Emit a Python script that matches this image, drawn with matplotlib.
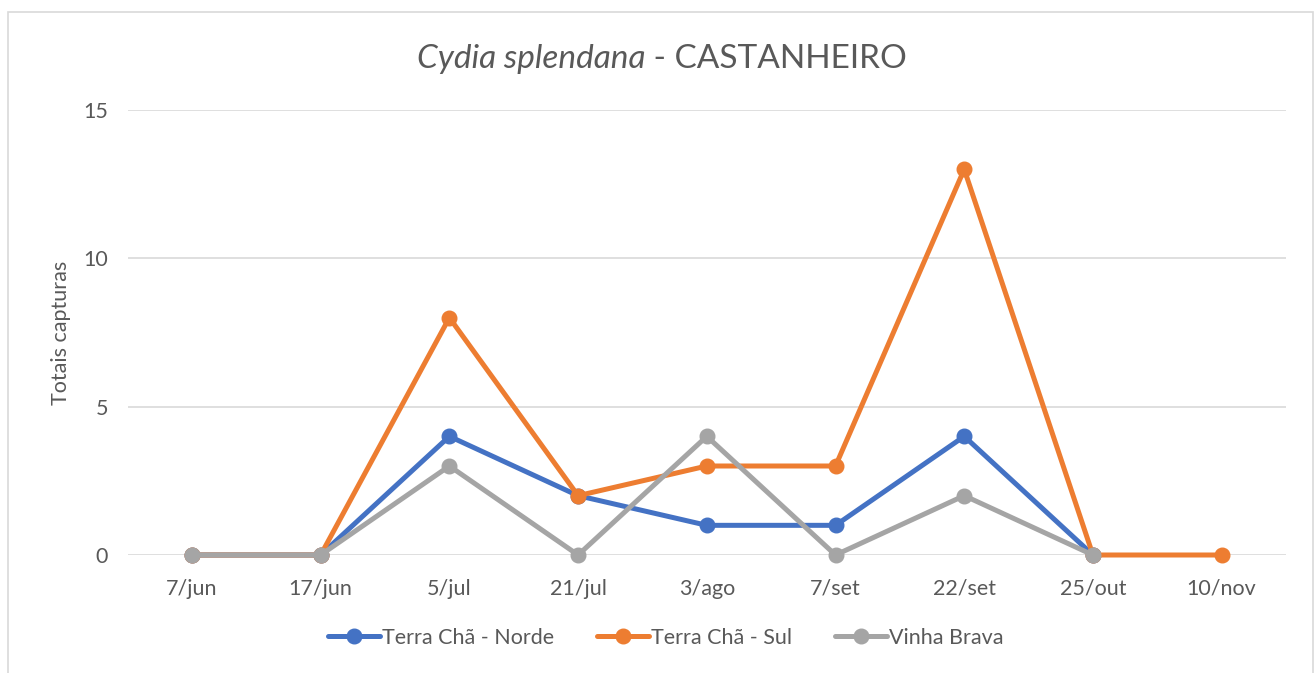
import matplotlib
matplotlib.use("Agg")
import matplotlib.pyplot as plt
from matplotlib.patches import Rectangle
import numpy as np

dates = ["7/jun", "17/jun", "5/jul", "21/jul", "3/ago", "7/set", "22/set", "25/out", "10/nov"]
norde = [0, 0, 4, 2, 1, 1, 4, 0, np.nan]
sul = [0, 0, 8, 2, 3, 3, 13, 0, 0]
vinha = [0, 0, 3, 0, 4, 0, 2, 0, np.nan]
series_names = ["Terra Chã - Norde", "Terra Chã - Sul", "Vinha Brava"]
yticks = [0, 5, 10, 15]

plt.rcParams['font.family'] = ['Lato', 'DejaVu Sans']
txt = '#595959'

fig = plt.figure(figsize=(13.14, 6.73), dpi=100)
fig.patches.append(Rectangle((8/1314, -0.01), (1313-8)/1314, 1.01 - 12/673, transform=fig.transFigure,
                             fill=False, edgecolor='#D9D9D9', linewidth=1.2))
ax = fig.add_axes([127.6/1314, 1-555/673, (1286-127.6)/1314, (555-110)/673])

x = np.arange(len(dates))
colors = ['#4472C4', '#ED7D31', '#A5A5A5']
for vals, c, n in zip([norde, sul, vinha], colors, series_names):
    ax.plot(x, vals, color=c, linewidth=3.6, marker='o', markersize=10.5, label=n,
            solid_capstyle='round', zorder=3)

ax.set_xlim(-0.5, len(dates) - 0.5)
ax.set_ylim(0, 15)
ax.set_yticks(yticks)
ax.set_xticks(x)
ax.set_xticklabels(dates)
for s in ax.spines.values():
    s.set_visible(False)
ax.grid(axis='y', color='#D9D9D9', linewidth=1.2, zorder=0)
ax.tick_params(axis='both', length=0, labelsize=15.5, colors=txt)
ax.tick_params(axis='x', pad=17)
ax.tick_params(axis='y', pad=14)
ax.set_ylabel("Totais capturas", fontsize=15.5, color=txt, labelpad=9)
for l in ax.lines:
    l.set_clip_on(False)

leg = fig.legend(loc='center', bbox_to_anchor=(666/1314, 1-638/673), ncol=3, frameon=False,
                 fontsize=15.5, handlelength=2.4, columnspacing=2.0, handletextpad=0.1, labelcolor=txt)

# Title with italic part
fig.canvas.draw()
r = fig.canvas.get_renderer()
t1 = fig.text(0, 1-68/673, "Cydia splendana", fontsize=24, style='italic', color=txt, va='baseline')
t2 = fig.text(0, 1-68/673, " - CASTANHEIRO", fontsize=24, color=txt, va='baseline')
w1 = t1.get_window_extent(r).width
w2 = t2.get_window_extent(r).width
cx = 662
start = cx - (w1 + w2) / 2
t1.set_x(start / 1314)
t2.set_x((start + w1) / 1314)

fig.savefig("out.png", dpi=100)
